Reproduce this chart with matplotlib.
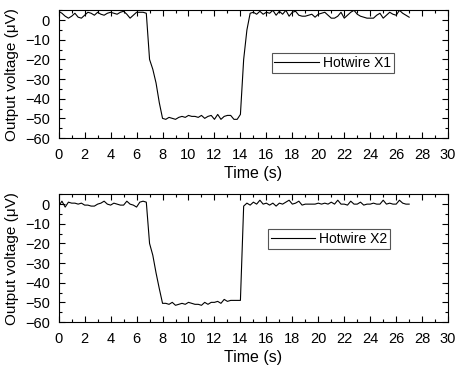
import matplotlib
matplotlib.use('Agg')
import matplotlib.pyplot as plt
import numpy as np
from matplotlib.ticker import MultipleLocator

plt.rcParams['font.family'] = ['Liberation Sans', 'DejaVu Sans']

# sample times (s), every 0.25 s from 0 to 27
time = np.arange(0, 27.001, 0.25)

# hotwire X1 output (uV)
x1 = [4.5, 3.5, 2, 1, 2, 3.5, 1.5, 1, 2.5, 4, 3.5, 2.5, 4, 3, 2.5, 3.5,
      4, 3.5, 3, 4, 4.5, 3, 1, 2.5, 4, 4, 4, 3.5,
      -20, -25, -32, -42, -50, -50.5, -49.5, -50, -50.5, -49.5, -49, -49.5,
      -48.5, -49, -49, -49.5, -48.5, -50, -49, -48.5, -50.5, -48, -50.5, -49,
      -48.5, -48.5, -50.5, -50.5, -48, -20, -5, 3.5,
      4, 3, 4.5, 3, 4, 3.5, 5, 2.5, 4.5, 3, 5, 2, 4, 4.5, 2.5, 2,
      2, 2.5, 3, 1.5, 3, 3.5, 4, 2.5, 1, 1, 2, 4, 1, 2.5, 4, 5,
      3, 2, 1.5, 1, 1, 1, 2.5, 3.5, 1, 2.5, 4, 3, 2.5, 5, 3.5, 2.5, 1.5]

# hotwire X2 output (uV)
x2 = [-1, 1.5, -1.5, 1, 0.5, 0.5, 0, 0.5, -0.5, -0.5, -1, -1, 0, 0.5, 1.5, 0,
      -0.5, 0.5, 0, -0.5, -0.5, 1.5, 0, -0.5, -1.5, 1, 1.5, 1,
      -20, -26, -35, -43, -50.5, -50.5, -51, -50, -51.5, -51, -50.5, -51,
      -50, -50.5, -51, -51, -51.5, -50, -51, -50, -50, -49.5, -50.5, -48.5,
      -49.5, -49, -49, -49, -49, -1, 0.5, -0.5,
      1, 0, 2, 0, 0.5, -0.5, 0.5, -1, 0.5, 0, 1, 2, 0, 0.5, 1.5, -0.5,
      0, 0, 0, 0, 0.5, 0, 0.5, 0, 1, 0, 2, 0, 0, -0.5, 1.5, 0,
      0, 1, -0.5, 0, 0, 0.5, 0, 0, 2, 0, 0.5, 0, 0, 2, 0.5, 0, 0]

series = [(x1, 'Hotwire X1', (0.547, 0.666)), (x2, 'Hotwire X2', (0.537, 0.728))]

fig = plt.figure(figsize=(4.56, 3.68), dpi=100)
boxes = [[0.1287, 0.625, 0.854, 0.347], [0.1287, 0.125, 0.854, 0.347]]

for box, (y, name, anchor) in zip(boxes, series):
    ax = fig.add_axes(box)
    ax.plot(time, y, color='black', lw=0.8, label=name)
    ax.set_xlim(0, 30)
    ax.set_ylim(-60, 5)
    ax.xaxis.set_major_locator(MultipleLocator(2))
    ax.xaxis.set_minor_locator(MultipleLocator(1))
    ax.yaxis.set_major_locator(MultipleLocator(10))
    ax.yaxis.set_minor_locator(MultipleLocator(5))
    ax.tick_params(which='both', direction='in', top=True, right=True,
                   labelsize=10.5, width=0.8)
    ax.tick_params(axis='x', which='major', pad=7)
    ax.tick_params(axis='y', which='major', pad=6.5)
    ax.tick_params(which='major', length=4)
    ax.tick_params(which='minor', length=2.5)
    for s in ax.spines.values():
        s.set_linewidth(0.8)
    ax.set_xlabel('Time (s)', fontsize=11.5, labelpad=3)
    ax.set_ylabel('Output voltage (\u03bcV)', fontsize=11, labelpad=4)
    leg = ax.legend(loc='upper left', bbox_to_anchor=anchor, borderaxespad=0,
                    fontsize=10, fancybox=False, framealpha=1,
                    handlelength=3.2, handletextpad=0.3, borderpad=0.2)
    leg.get_frame().set_edgecolor('#555555')
    leg.get_frame().set_linewidth(0.8)

fig.savefig('out.png', dpi=100)
